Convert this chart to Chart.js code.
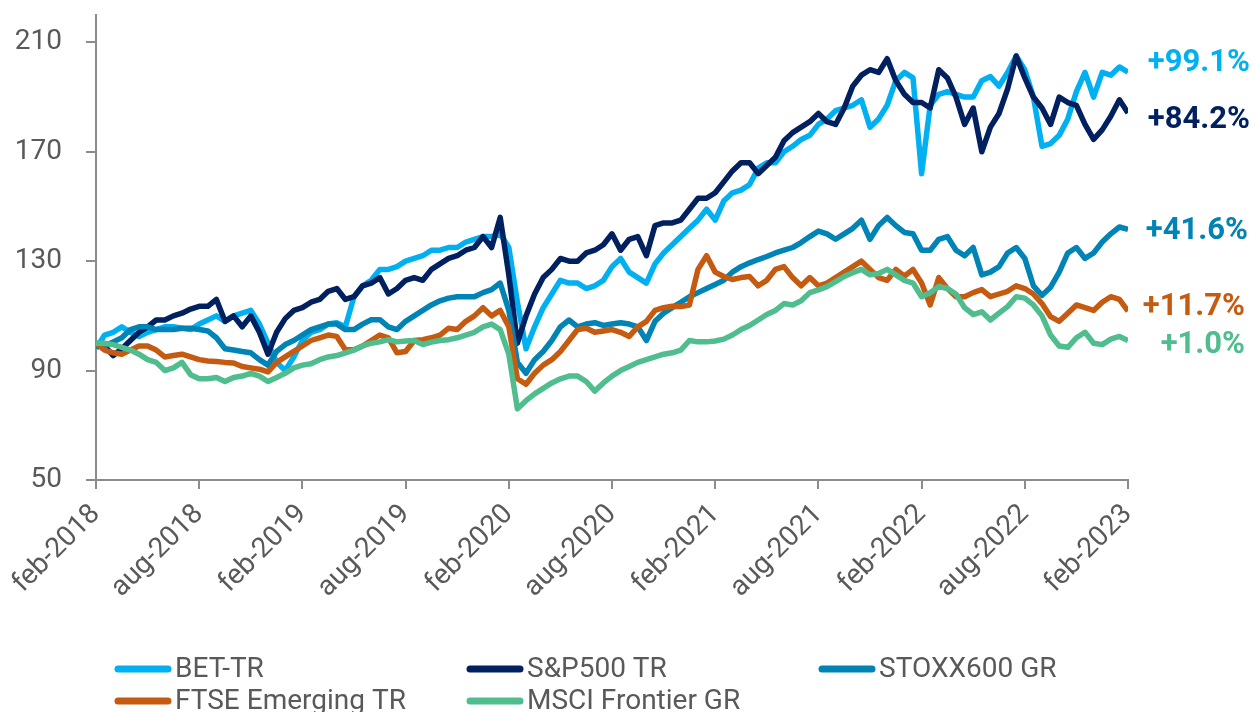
<!DOCTYPE html>
<html>
<head>
<meta charset="utf-8">
<script src="https://cdn.jsdelivr.net/npm/chart.js@4.4.1/dist/chart.umd.min.js"></script>
<style>
  html, body { margin: 0; padding: 0; background: #fff; }
</style>
</head>
<body>
<canvas id="myChart" width="1255" height="712"></canvas>
<script>
// Tick labels, one every 6 months
var xTickLabels = ["feb-2018", "aug-2018", "feb-2019", "aug-2019", "feb-2020", "aug-2020",
                   "feb-2021", "aug-2021", "feb-2022", "aug-2022", "feb-2023"];
var yTicks = [50, 90, 130, 170, 210];

var seriesNames = ["BET-TR", "S&P500 TR", "STOXX600 GR", "FTSE Emerging TR", "MSCI Frontier GR"];
var endLabels = ["+99.1%", "+84.2%", "+41.6%", "+11.7%", "+1.0%"];

// Index values (feb-2018 = 100), one every half month, feb-2018 .. feb-2023
var betTR = [
  98, 103, 104, 106, 104, 102.5, 104, 105, 106, 106,
  105.5, 105, 107, 108.5, 110, 108, 110, 111, 112, 107,
  100, 93, 90, 95, 101, 104, 105, 107, 107.5, 106,
  117, 121, 123, 127, 127, 128, 130, 131, 132, 134,
  134, 135, 135, 137, 138, 139, 139, 140, 135, 115,
  98, 106, 113, 118, 123, 122, 122, 120, 121, 123,
  128, 131, 126, 124, 122, 129, 133, 136, 139, 142,
  145, 149, 145, 152, 155, 156, 158, 164, 166, 166,
  170, 172, 174.5, 176, 180, 182, 185, 186, 187, 189,
  179, 182, 187, 196, 199, 197, 162, 187, 191, 192,
  191, 190, 190, 196, 197.5, 194, 199, 205, 200, 190,
  172, 173, 176, 182, 192, 199, 190, 199, 198, 201,
  199.1
];
var sp500TR = [
  100, 99, 95.5, 98, 101, 104, 106, 108.5, 108.5, 110,
  111, 112.5, 113.5, 113.5, 116, 108, 110, 106, 110, 104,
  96, 104, 109, 112, 113, 115, 116, 119, 120, 116,
  117, 121, 122, 124, 118, 120, 123, 124, 123, 127,
  129, 131, 132, 134, 135, 139, 135, 146, 125, 100,
  110, 118, 124, 127, 131, 130, 130, 133, 134, 136,
  140, 134, 138, 139, 132, 143, 144, 144, 145, 149,
  153, 153, 155, 159, 163, 166, 166, 162, 165, 168,
  174, 177, 179, 181, 184, 181, 180, 186, 194, 198,
  200, 199, 204, 196, 191, 188, 188, 186, 200, 197,
  190, 180, 186, 170, 179, 184, 193, 205, 197, 190,
  186, 180, 190, 188, 187, 180, 174.5, 178, 183, 189,
  184.2
];
var stoxx600GR = [
  99, 99, 100.5, 102, 105, 106, 106, 105, 105, 105,
  105.5, 105.5, 105, 104.5, 102, 98, 97.5, 97, 96.5, 94,
  92, 97, 99.5, 101, 103, 105, 106, 107, 107, 105,
  105, 107, 108.6, 108.6, 106, 105, 108, 110, 112, 114,
  115.5, 116.5, 117, 117, 117, 118.5, 119.6, 122, 112, 93,
  89, 94, 97, 101, 106, 108.5, 106, 107, 107.5, 106.5,
  107, 107.5, 107, 106, 101, 108, 111, 113, 115, 117,
  118.5, 120, 121.5, 123, 126, 128, 129.4, 130.6, 131.7, 133,
  134, 135, 136.8, 139, 141, 140, 138, 140, 142, 145,
  138, 143, 146, 143, 140.5, 140, 134, 134, 138, 139,
  134, 132, 135, 125, 126, 128, 133, 135, 131, 121,
  117.5, 120.5, 126, 133, 135, 131, 133, 137, 140, 142.5,
  141.6
];
var ftseEmergingTR = [
  100, 97.5, 96.5, 96, 97.5, 99, 99, 97.5, 95, 95.5,
  96, 95, 94, 93.5, 93.3, 93, 92.8, 91.5, 91, 90.5,
  89.5, 93, 95, 97, 99, 101, 102, 103, 102.5, 97.6,
  97.6, 99, 101, 103, 102, 96.5, 97, 101, 101.3, 102,
  103, 105.5, 105, 108, 110, 113, 110, 112, 106, 87,
  85, 89, 92, 94, 97, 101, 105, 105.5, 104, 104.5,
  105, 104, 102.5, 106, 108, 112, 113, 113.5, 113.4, 114,
  127, 132, 126, 124.4, 123.3, 124, 124.4, 121, 123, 127,
  128, 124, 121, 124, 121, 122, 124, 126, 128, 130,
  127, 124, 123, 127, 124.5, 127, 122, 114, 124, 120,
  117, 117, 118.5, 119.6, 117, 118, 119, 121, 120, 118,
  114.5, 109.7, 108, 111, 114, 113, 112, 115, 117, 116,
  111.7
];
var msciFrontierGR = [
  100, 100, 99.5, 98.5, 97.5, 96, 94, 93, 90, 91,
  93, 88.5, 87, 87, 87.5, 86, 87.5, 88, 89, 88,
  86, 87.5, 89, 91, 92, 92.5, 94, 95, 95.5, 96.5,
  97.5, 99, 100, 100.5, 101.3, 100.5, 100.8, 101, 99.5, 100.4,
  101, 101.3, 102, 103, 104, 106, 107, 105, 96, 76,
  79, 81.5, 83.5, 85.5, 87, 88, 88, 86, 82.5, 85.5,
  88, 90, 91.5, 93, 94, 95, 96, 96.5, 97.5, 101,
  100.5, 100.5, 100.8, 101.5, 103, 105, 106.5, 108.5, 110.5, 112,
  114.5, 114, 115.5, 118.5, 119.5, 120.7, 122.5, 124.4, 125.8, 127,
  125, 125.5, 127, 125, 123, 122, 117, 118.5, 120.7, 120,
  118, 113, 110.5, 111.5, 108.5, 111, 113.4, 117, 116.5, 114,
  110, 103, 99, 98.5, 102, 104, 100, 99.5, 101.5, 102.5,
  101
];

var allSeries = [betTR, sp500TR, stoxx600GR, ftseEmergingTR, msciFrontierGR];
var colors = ["#00B0F0", "#002060", "#0083B5", "#C55A11", "#4FBD8D"];
var textColor = "#595959";
var axisColor = "#8C8C8C";

// x value = months since feb-2018
function toPoints(values) {
    return values.map(function (v, i) { return { x: i / 2, y: v }; });
}

var datasets = allSeries.map(function (values, i) {
    return {
        label: seriesNames[i],
        data: toPoints(values),
        borderColor: colors[i],
        backgroundColor: colors[i],
        borderWidth: 5.5,
        pointRadius: 0,
        tension: 0,
        borderJoinStyle: "round",
        order: allSeries.length - i
    };
});

// end-of-line labels and the legend at the bottom
var extrasPlugin = {
    id: "extras",
    afterDraw: function (chart) {
        var ctx = chart.ctx;
        var yScale = chart.scales.y;
        var labelDy = [-9, 7, 2, -4, 5];
        var labelRight = [1250, 1250, 1248, 1245, 1245];
        ctx.save();
        ctx.font = "bold 31px Roboto";
        ctx.textAlign = "right";
        ctx.textBaseline = "middle";
        allSeries.forEach(function (values, i) {
            var y = yScale.getPixelForValue(values[values.length - 1]) + labelDy[i];
            ctx.fillStyle = colors[i];
            ctx.fillText(endLabels[i], labelRight[i], y);
        });

        var legendPos = [[115, 669], [467, 669], [819, 669], [115, 701], [467, 701]];
        ctx.font = "28px Roboto";
        ctx.textAlign = "left";
        seriesNames.forEach(function (name, i) {
            var x = legendPos[i][0], y = legendPos[i][1];
            ctx.strokeStyle = colors[i];
            ctx.lineWidth = 7;
            ctx.lineCap = "round";
            ctx.beginPath();
            ctx.moveTo(x + 3, y);
            ctx.lineTo(x + 53, y);
            ctx.stroke();
            ctx.fillStyle = textColor;
            ctx.fillText(name, x + 60, y + 1);
        });
        ctx.restore();
    }
};

var ctx1 = document.getElementById("myChart").getContext("2d");

var myChart = new Chart(ctx1, {
    type: "line",
    data: { datasets: datasets },
    options: {
        responsive: false,
        animation: false,
        layout: { padding: { top: 15, right: 127, left: 0, bottom: 0 } },
        plugins: {
            legend: { display: false },
            tooltip: { enabled: false }
        },
        scales: {
            x: {
                type: "linear",
                min: 0,
                max: 60,
                afterBuildTicks: function (scale) {
                    scale.ticks = xTickLabels.map(function (l, i) { return { value: i * 6 }; });
                },
                afterFit: function (scale) { scale.height = 232; },
                ticks: {
                    autoSkip: false,
                    maxRotation: 45,
                    minRotation: 45,
                    padding: 9,
                    color: textColor,
                    font: { family: "Roboto", size: 28 },
                    callback: function (value) { return xTickLabels[Math.round(value / 6)]; }
                },
                grid: {
                    drawOnChartArea: false,
                    drawTicks: true,
                    tickLength: 9,
                    color: axisColor,
                    lineWidth: 2
                },
                border: { color: axisColor, width: 2 }
            },
            y: {
                min: 50,
                max: 220,
                afterBuildTicks: function (scale) {
                    scale.ticks = yTicks.map(function (v) { return { value: v }; });
                },
                afterFit: function (scale) {
                    scale.width = 96;
                    scale.paddingTop = 0;
                    scale.paddingBottom = 0;
                },
                ticks: {
                    padding: 24,
                    color: textColor,
                    font: { family: "Roboto", size: 28 }
                },
                grid: {
                    drawOnChartArea: false,
                    drawTicks: true,
                    tickLength: 10,
                    color: axisColor,
                    lineWidth: 2
                },
                border: { color: axisColor, width: 2 }
            }
        }
    },
    plugins: [extrasPlugin]
});
</script>
</body>
</html>
